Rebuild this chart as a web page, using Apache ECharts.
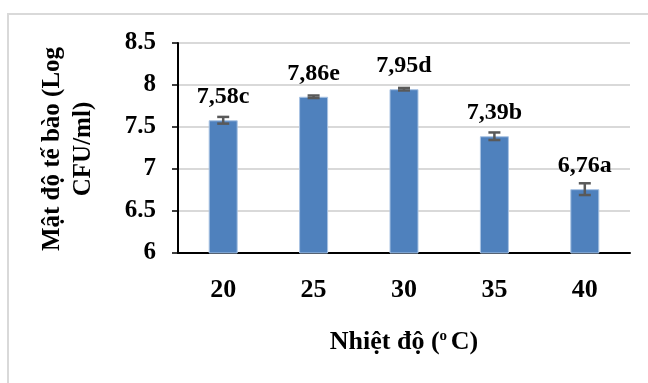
<!DOCTYPE html>
<html>
<head>
<meta charset="utf-8">
<script src="https://cdn.jsdelivr.net/npm/echarts@6/dist/echarts.min.js"></script>
<style>
  html, body { margin: 0; padding: 0; background: #fff; }
  #chart { width: 648px; height: 383px; }
</style>
</head>
<body>
<div id="chart"></div>
<script>
// Temperature groups (°C)
const categories = ['20', '25', '30', '35', '40'];
// Mean cell density (log CFU/ml)
const values = [7.58, 7.86, 7.95, 7.39, 6.76];
// Standard deviation for each group
const errors = [0.04, 0.015, 0.015, 0.045, 0.07];
// Significance letters
const letters = ['c', 'e', 'd', 'b', 'a'];
// Y axis ticks
const yTicks = [6, 6.5, 7, 7.5, 8, 8.5];

const FONT = "'Liberation Serif', 'Times New Roman', serif";

const chart = echarts.init(document.getElementById('chart'), null, { renderer: 'canvas' });

const errorData = values.map((v, i) => [i, v - errors[i], v + errors[i]]);

chart.setOption({
  animation: false,
  backgroundColor: '#ffffff',
  grid: { left: 178, right: 18, top: 43, bottom: 130, containLabel: false },
  xAxis: {
    type: 'category',
    data: categories,
    axisLine: { lineStyle: { color: '#000', width: 2 } },
    axisTick: { alignWithLabel: true, length: 5, lineStyle: { color: '#000', width: 1.5 } },
    axisLabel: { margin: 24, color: '#000', fontFamily: FONT, fontWeight: 'bold', fontSize: 26 }
  },
  yAxis: {
    type: 'value',
    min: yTicks[0],
    max: yTicks[yTicks.length - 1],
    interval: 0.5,
    axisLine: { show: true, lineStyle: { color: '#000', width: 2 } },
    axisTick: { show: true, length: 6, lineStyle: { color: '#000', width: 1.5 } },
    axisLabel: { margin: 22, color: '#000', fontFamily: FONT, fontWeight: 'bold', fontSize: 25 },
    splitLine: { lineStyle: { color: '#d9d9d9', width: 2 } }
  },
  series: [
    {
      type: 'bar',
      data: values,
      barWidth: 29,
      itemStyle: { color: '#4f81bd', borderColor: '#a9c3e3', borderWidth: 1 },
      label: {
        show: true,
        position: 'top',
        distance: 11,
        color: '#000',
        fontFamily: FONT,
        fontWeight: 'bold',
        fontSize: 24,
        formatter: p => values[p.dataIndex].toFixed(2).replace('.', ',') + letters[p.dataIndex]
      },
      z: 2
    },
    {
      type: 'custom',
      data: errorData,
      z: 3,
      renderItem: (params, api) => {
        const x = api.value(0);
        const lo = api.coord([x, api.value(1)]);
        const hi = api.coord([x, api.value(2)]);
        const half = 6;
        const style = { stroke: '#595959', lineWidth: 2.5 };
        return {
          type: 'group',
          children: [
            { type: 'line', shape: { x1: lo[0], y1: lo[1], x2: hi[0], y2: hi[1] }, style },
            { type: 'line', shape: { x1: hi[0] - half, y1: hi[1], x2: hi[0] + half, y2: hi[1] }, style },
            { type: 'line', shape: { x1: lo[0] - half, y1: lo[1], x2: lo[0] + half, y2: lo[1] }, style }
          ]
        };
      }
    }
  ],
  graphic: [
    {
      type: 'rect',
      shape: { x: 8, y: 14, width: 700, height: 420 },
      style: { fill: null, stroke: '#d9d9d9', lineWidth: 2 },
      silent: true,
      z: -1
    },
    {
      type: 'text',
      x: 68,
      y: 149,
      rotation: Math.PI / 2,
      style: {
        text: 'Mật độ tế bào (Log\nCFU/ml)',
        textAlign: 'center',
        textVerticalAlign: 'middle',
        font: 'bold 25px ' + FONT,
        lineHeight: 31,
        fill: '#000'
      }
    },
    {
      type: 'text',
      x: 404,
      y: 342,
      style: {
        rich: {
          t: { font: 'bold 26px ' + FONT, fill: '#000' },
          s: { font: 'bold 15px ' + FONT, fill: '#000', verticalAlign: 'top', padding: [0, 0, 10, 0] }
        },
        text: '{t|Nhiệt độ (}{s|o }{t|C)}',
        textAlign: 'center',
        textVerticalAlign: 'middle'
      }
    }
  ]
});
</script>
</body>
</html>
